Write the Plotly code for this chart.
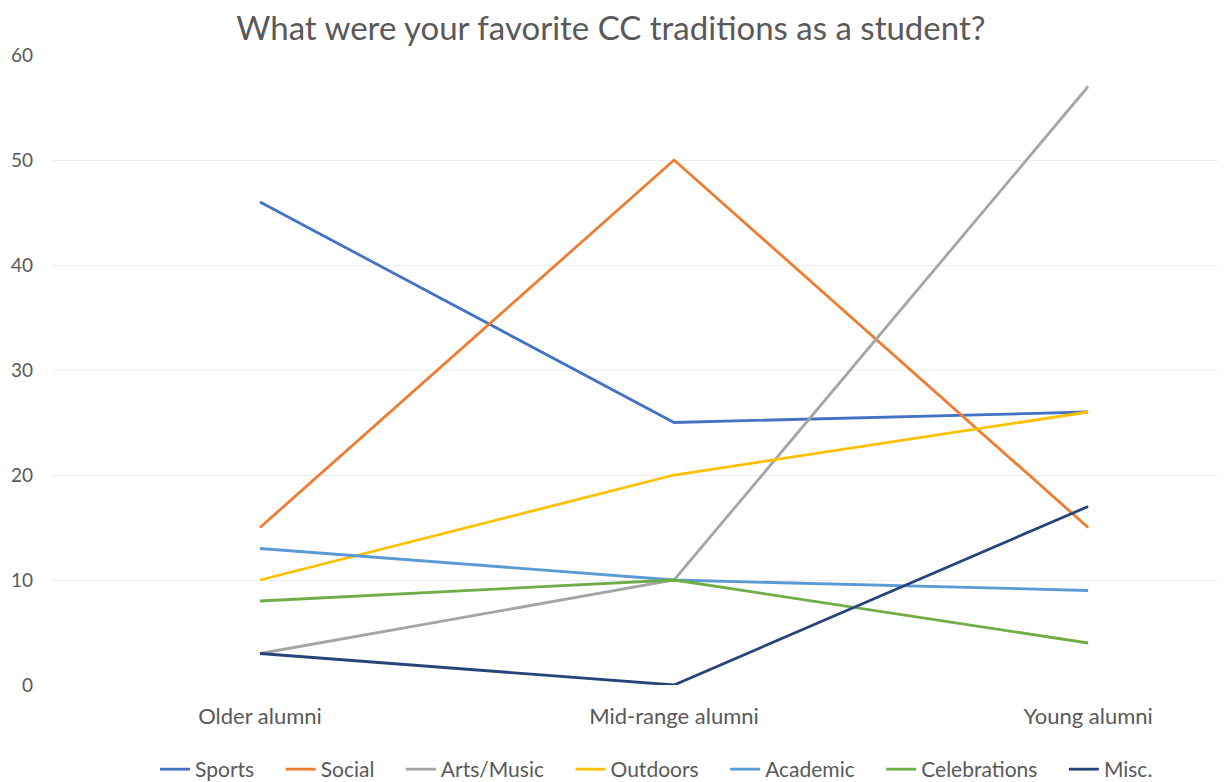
import plotly.graph_objects as go

categories = ["Older alumni", "Mid-range alumni", "Young alumni"]
series_names = ["Sports", "Social", "Arts/Music", "Outdoors", "Academic", "Celebrations", "Misc."]
sports = [46, 25, 26]
social = [15, 50, 15]
arts_music = [3, 10, 57]
outdoors = [10, 20, 26]
academic = [13, 10, 9]
celebrations = [8, 10, 4]
misc = [3, 0, 17]
y_ticks = [0, 10, 20, 30, 40, 50, 60]

values = [sports, social, arts_music, outdoors, academic, celebrations, misc]
colors = ["#4472C4", "#ED7D31", "#A5A5A5", "#FFC000", "#5B9BD5", "#70AD47", "#264478"]

FONT = "Lato"
PAD = "\u00a0" * 4

fig = go.Figure()
for name, vals, col in zip(series_names, values, colors):
    fig.add_trace(go.Scatter(
        x=[0, 1, 2], y=vals, name=name + PAD, mode="lines",
        line=dict(color=col, width=2.8),
    ))

fig.update_layout(
    width=1218, height=782,
    paper_bgcolor="white", plot_bgcolor="white",
    margin=dict(l=45, r=0, t=47, b=105),
    title=dict(text="What were your favorite CC traditions as a student?",
               x=0.495, xanchor="center", y=1 - 20 / 782, yanchor="middle",
               font=dict(family=FONT, size=33, color="#595959")),
    font=dict(family=FONT, color="#595959"),
    xaxis=dict(range=[-0.5, 2.333], tickmode="array", tickvals=[0, 1, 2],
               ticktext=categories, showgrid=False, zeroline=False,
               showline=False, tickfont=dict(size=22, color="#595959"),
               ticks="", ticklabelstandoff=16),
    yaxis=dict(range=[0, 60], tickmode="array", tickvals=y_ticks,
               showgrid=True, gridcolor="#EDEDED", gridwidth=1,
               zeroline=False, showline=False,
               tickfont=dict(size=19, color="#595959"), ticks="",
               ticklabelstandoff=19),
    legend=dict(orientation="h", x=0.087, xanchor="left", y=-0.135,
                yanchor="middle", font=dict(size=21, color="#595959"),
                itemwidth=30, tracegroupgap=0),
    showlegend=True,
)

fig.write_html("out.html")
